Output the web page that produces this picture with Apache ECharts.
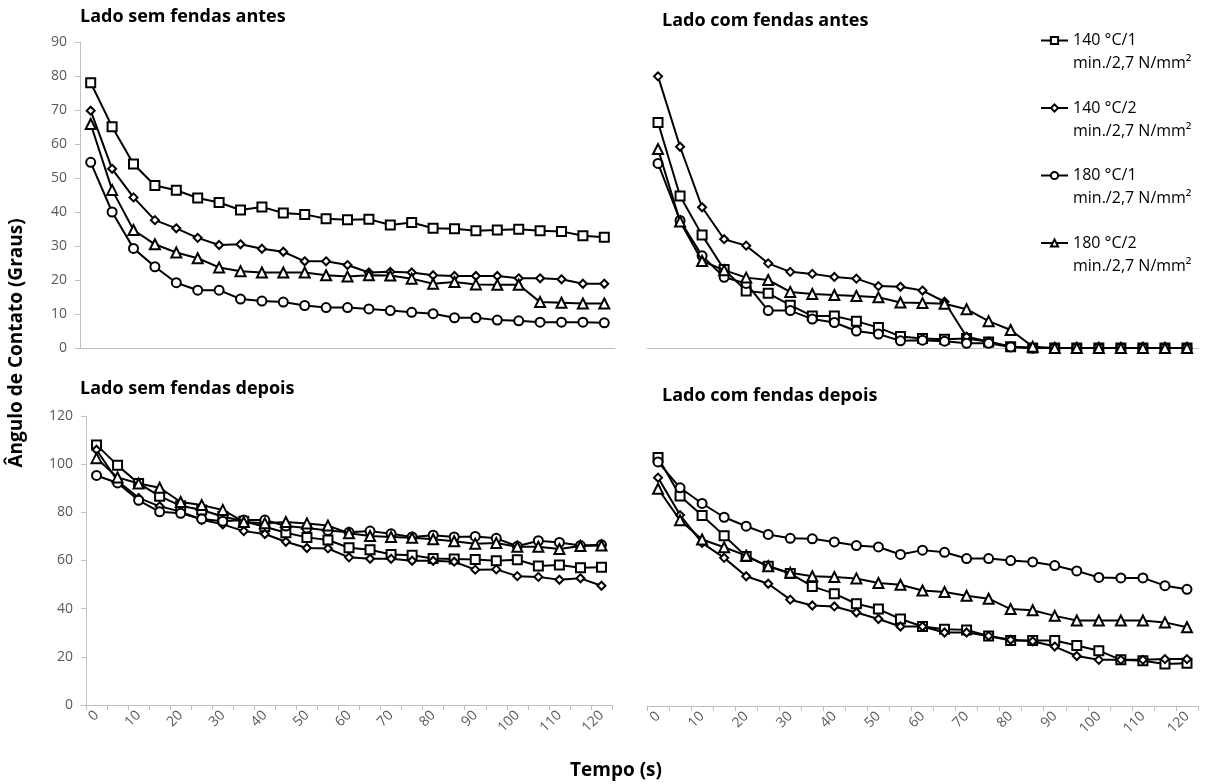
<!DOCTYPE html>
<html><head><meta charset="utf-8">
<script src="https://cdn.jsdelivr.net/npm/echarts@6/dist/echarts.min.js"></script>
<style>html,body{margin:0;padding:0;background:#fff}#c{width:1208px;height:784px}</style>
</head><body><div id="c"></div>
<script>
// ---- data ----
const categories = ['0','5','10','15','20','25','30','35','40','45','50','55','60','65','70','75','80','85','90','95','100','105','110','115','120'];
const seriesNames = ['140 °C/1 min./2,7 N/mm²','140 °C/2 min./2,7 N/mm²','180 °C/1 min./2,7 N/mm²','180 °C/2 min./2,7 N/mm²'];
const panelTitles = ['Lado sem fendas antes','Lado com fendas antes','Lado sem fendas depois','Lado com fendas depois'];
const yTicksTop = [0,10,20,30,40,50,60,70,80,90];
const yTicksBottom = [0,20,40,60,80,100,120];
const yAxisName = 'Ângulo de Contato (Graus)';
const xAxisName = 'Tempo (s)';

// Lado sem fendas antes
const tl_140_1 = [78.0,65.1,54.1,47.8,46.4,44.1,42.8,40.6,41.5,39.7,39.3,38.0,37.7,37.9,36.2,36.9,35.2,35.1,34.5,34.7,34.9,34.5,34.3,33.0,32.6];
const tl_140_2 = [69.8,52.7,44.3,37.6,35.2,32.4,30.3,30.5,29.2,28.3,25.5,25.5,24.4,22.2,22.4,22.2,21.4,21.2,21.2,21.2,20.5,20.5,20.2,18.9,18.9];
const tl_180_1 = [54.6,40.0,29.3,23.9,19.2,17.0,17.0,14.4,13.8,13.5,12.5,11.9,11.9,11.5,11.0,10.5,10.1,8.9,8.9,8.2,8.0,7.6,7.6,7.6,7.4];
const tl_180_2 = [65.9,46.5,34.7,30.5,28.1,26.4,23.7,22.6,22.2,22.2,22.2,21.4,21.0,21.4,21.3,20.4,18.9,19.4,18.7,18.6,18.6,13.5,13.3,13.1,13.1];
// Lado com fendas antes
const tr_140_1 = [66.3,44.7,33.2,23.1,16.8,16.1,12.6,9.4,9.4,7.9,6.0,3.4,2.8,2.6,2.8,1.8,0.4,0,0,0,0,0,0,0,0];
const tr_140_2 = [79.9,59.2,41.4,32.0,30.1,24.9,22.4,21.8,20.9,20.4,18.2,18.0,16.9,13.6,3.3,1.9,0.4,0,0,0,0,0,0,0,0];
const tr_180_1 = [54.3,37.5,27.1,20.8,19.0,11.0,11.0,8.5,7.5,5.0,4.1,2.1,2.3,2.0,1.4,1.4,0.3,0,0,0,0,0,0,0,0];
const tr_180_2 = [58.5,37.2,25.6,22.9,20.7,20.0,16.5,15.9,15.6,15.3,14.9,13.4,13.2,13.0,11.4,7.9,5.3,0.4,0,0,0,0,0,0,0];
// Lado sem fendas depois
const bl_140_1 = [108.0,99.5,92.0,86.7,82.7,81.0,78.3,76.3,74.0,71.5,69.6,68.5,65.3,64.5,62.5,62.2,60.8,60.6,60.4,59.9,60.3,57.7,58.1,57.0,57.2];
const bl_140_2 = [106.0,93.0,86.0,82.5,80.3,76.9,75.0,72.2,71.0,67.8,65.2,65.0,61.3,60.7,60.7,59.9,59.9,59.5,56.2,56.3,53.5,53.2,52.0,52.6,49.5];
const bl_180_1 = [95.3,92.2,85.0,80.2,79.6,77.2,76.3,76.8,76.8,74.3,73.5,72.5,71.7,72.2,71.1,69.8,70.5,69.8,70.0,69.2,65.9,68.2,67.5,66.2,66.5];
const bl_180_2 = [102.5,94.5,92.0,90.2,84.3,83.0,81.0,76.0,75.5,76.0,75.4,74.5,71.3,70.2,69.8,69.4,68.8,68.0,67.0,67.3,65.7,65.7,64.8,66.0,66.2];
// Lado com fendas depois
const br_140_1 = [102.8,86.9,78.8,70.5,61.9,57.8,54.8,49.5,46.5,42.3,40.1,36.0,32.9,31.8,31.5,29.0,27.1,27.1,27.1,25.0,22.9,19.1,18.7,17.4,17.7];
const br_140_2 = [94.5,79.0,67.5,61.3,53.7,50.6,44.0,41.6,41.2,38.7,36.0,32.9,32.9,30.4,30.4,29.0,27.4,26.8,24.6,20.7,19.1,19.1,19.1,19.4,19.4];
const br_180_1 = [101.0,90.3,83.8,78.1,74.4,71.0,69.4,69.2,67.9,66.4,65.8,62.7,64.5,63.6,61.0,61.0,60.2,59.6,58.1,55.9,53.2,53.0,53.0,49.8,48.3];
const br_180_2 = [89.9,76.9,68.9,65.7,62.2,57.8,55.1,53.7,53.4,52.8,50.9,50.2,47.8,47.2,45.6,44.4,40.1,39.6,37.3,35.4,35.4,35.4,35.4,34.6,32.6];

const panels = [
  [tl_140_1, tl_140_2, tl_180_1, tl_180_2],
  [tr_140_1, tr_140_2, tr_180_1, tr_180_2],
  [bl_140_1, bl_140_2, bl_180_1, bl_180_2],
  [br_140_1, br_140_2, br_180_1, br_180_2]
];

// ---- styling ----
const FONT = 'Open Sans';
const AX = '#bfbfbf';
const LBL = '#595959';
const symbols = ['rect','diamond','circle','triangle'];
const symbolSizes = [9,8,9,10];

const grids = [
  {left:80, top:42, width:535, height:306},
  {left:647, top:42, width:551, height:306},
  {left:86, top:416, width:526, height:289},
  {left:647, top:416, width:551, height:290}
];

const xAxes = grids.map((g, i) => {
  const bottom = i >= 2;
  return {
    type:'category', gridIndex:i, data:categories, boundaryGap:true,
    axisLine:{show:true, lineStyle:{color:AX, width:1}},
    axisTick:{show:bottom, interval:0, length:5, lineStyle:{color:AX}},
    axisLabel:{show:bottom, interval:1, rotate:45, margin:8, color:LBL, fontFamily:FONT, fontSize:14},
    splitLine:{show:false}
  };
});
const yAxes = grids.map((g, i) => {
  const left = (i % 2 === 0);
  const ticks = i < 2 ? yTicksTop : yTicksBottom;
  return {
    type:'value', gridIndex:i, min:ticks[0], max:ticks[ticks.length-1], interval:ticks[1]-ticks[0],
    axisLine:{show:left, lineStyle:{color:AX, width:1}},
    axisTick:{show:left, length:5, lineStyle:{color:AX}},
    axisLabel:{show:left, margin:13, color:LBL, fontFamily:FONT, fontSize:14},
    splitLine:{show:false}
  };
});

const series = [];
panels.forEach((arrs, gi) => {
  arrs.forEach((d, si) => {
    series.push({
      type:'line', name:seriesNames[si], xAxisIndex:gi, yAxisIndex:gi, data:d,
      symbol:symbols[si], symbolSize:symbolSizes[si], showSymbol:true,
      lineStyle:{color:'#000', width:2},
      itemStyle:{color:'#fff', borderColor:'#000', borderWidth:2},
      emphasis:{disabled:true}, animation:false, z:2+si
    });
  });
});

const titlePos = [[80,8],[662,12],[80,380],[662,387]];
const titles = panelTitles.map((t, i) => ({
  text:t, left:titlePos[i][0], top:titlePos[i][1], padding:0,
  textStyle:{fontFamily:FONT, fontWeight:'bold', fontSize:18, color:'#000'}
}));

// one legend block per series, so each two-line entry sits where the reference puts it
const legendIconY = [40.5, 108, 175.5, 243];
const legends = seriesNames.map((n, i) => ({
  data:[n], orient:'vertical', left:1040, top:legendIconY[i] - 31, padding:0,
  itemWidth:27, itemHeight:9, selectedMode:false,
  formatter: s => '{e| }\n{a|' + s.replace(' min.', '}\n{a|min.') + '}',
  textStyle:{fontFamily:FONT, fontSize:16, color:'#000',
    rich:{
      e:{fontFamily:FONT, fontSize:16, lineHeight:23},
      a:{fontFamily:FONT, fontSize:16, color:'#000', lineHeight:23}
    }}
}));

const chart = echarts.init(document.getElementById('c'), null, {renderer:'canvas'});
chart.setOption({
  animation:false,
  backgroundColor:'#fff',
  title:titles,
  grid:grids,
  xAxis:xAxes,
  yAxis:yAxes,
  legend:legends,
  graphic:[
    {type:'text', x:17, y:343, rotation:Math.PI/2,
     style:{text:yAxisName, fontFamily:FONT, fontWeight:'bold', fontSize:19, fill:'#000', align:'center', verticalAlign:'middle'}},
    {type:'text', x:616, y:771,
     style:{text:xAxisName, fontFamily:FONT, fontWeight:'bold', fontSize:19, fill:'#000', align:'center', verticalAlign:'middle'}}
  ],
  series:series
});
</script></body></html>
